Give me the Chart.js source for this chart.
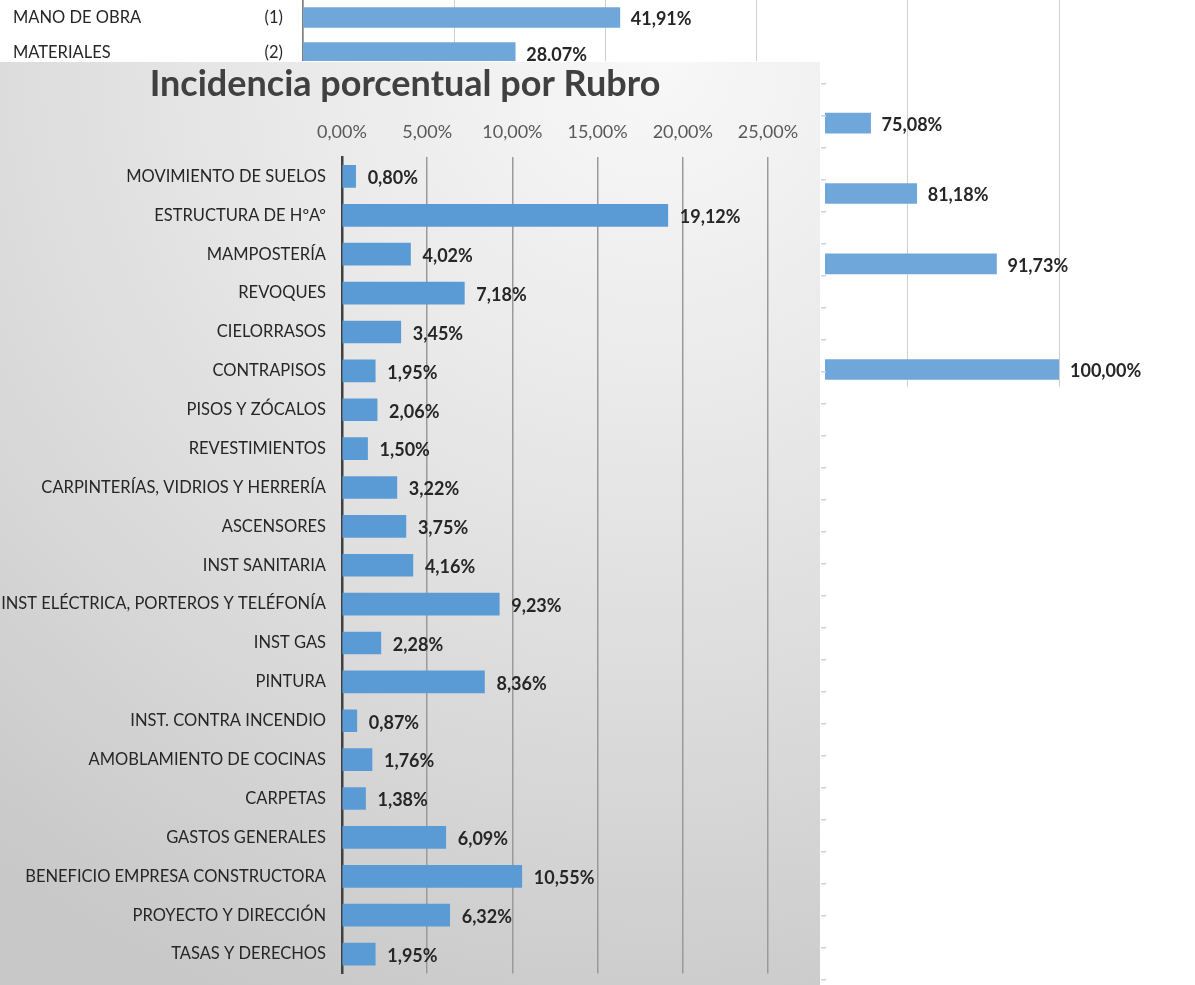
<!DOCTYPE html>
<html>
<head>
<meta charset="utf-8">
<script src="https://cdn.jsdelivr.net/npm/chart.js@4/dist/chart.umd.min.js"></script>
<style>
  html, body { margin: 0; padding: 0; background: #fff; }
  body { width: 1195px; height: 985px; position: relative; overflow: hidden; }
  #bg { position: absolute; left: 0; top: -10px; }
  #marks { position: absolute; left: 816px; top: 82px; z-index: 3; }
  #panel {
    position: absolute; left: 0; top: 61px; width: 820px; height: 924px;
    border-top: 1px solid #fff; border-right: 5px solid #fff; z-index: 2;
    background: radial-gradient(ellipse 130% 110% at 80% 0%, #f8f8f8 0%, #e9e9e9 35%, #d8d8d8 70%, #c8c8c8 100%);
  }
  #main { position: absolute; left: 0; top: 1px; }
</style>
</head>
<body>
<canvas id="bg" width="1195" height="407"></canvas>
<div id="panel"><canvas id="main" width="820" height="923"></canvas></div>
<canvas id="marks" width="10" height="900"></canvas>
<script>
"use strict";

// chart behind (partly hidden)
var backNames = ['MANO DE OBRA', 'MATERIALES', '', '', '', '', '', '', '', '', ''];
var backCodes = ['(1)', '(2)', '', '', '', '', '', '', '', '', ''];
var backValues = [41.91, 28.07, null, 75.08, null, 81.18, null, 91.73, null, null, 100.00];

// main chart
var rubros = [
    'MOVIMIENTO DE SUELOS', 'ESTRUCTURA DE HºAº', 'MAMPOSTERÍA', 'REVOQUES', 'CIELORRASOS',
    'CONTRAPISOS', 'PISOS Y ZÓCALOS', 'REVESTIMIENTOS', 'CARPINTERÍAS, VIDRIOS Y HERRERÍA',
    'ASCENSORES', 'INST SANITARIA', 'INST ELÉCTRICA, PORTEROS Y TELÉFONÍA', 'INST GAS',
    'PINTURA', 'INST. CONTRA INCENDIO', 'AMOBLAMIENTO DE COCINAS', 'CARPETAS',
    'GASTOS GENERALES', 'BENEFICIO EMPRESA CONSTRUCTORA', 'PROYECTO Y DIRECCIÓN', 'TASAS Y DERECHOS'
];
var incidencia = [0.80, 19.12, 4.02, 7.18, 3.45, 1.95, 2.06, 1.50, 3.22, 3.75, 4.16,
    9.23, 2.28, 8.36, 0.87, 1.76, 1.38, 6.09, 10.55, 6.32, 1.95];
var mainTicks = [0, 5, 10, 15, 20, 25];

Chart.defaults.font.family = 'Lato';
Chart.defaults.animation = false;

function pct(v) {
    return v.toFixed(2).replace('.', ',') + '%';
}

// draws the percentage next to the end of each bar
var valueLabels = {
    id: 'valueLabels',
    afterDatasetsDraw(chart, args, opts) {
        var ctx = chart.ctx;
        var data = chart.data.datasets[0].data;
        ctx.save();
        ctx.font = 'bold 18px Lato';
        ctx.fillStyle = '#262626';
        ctx.textBaseline = 'middle';
        chart.getDatasetMeta(0).data.forEach(function(bar, i) {
            if (data[i] == null) return;
            ctx.fillText(pct(data[i]), bar.x + opts.offset, bar.y + 2);
        });
        ctx.restore();
    }
};

new Chart(document.getElementById('bg'), {
    type: 'bar',
    data: {
        labels: backCodes,
        datasets: [{ data: backValues, backgroundColor: '#70a7db', barThickness: 20 }]
    },
    options: {
        indexAxis: 'y',
        responsive: false,
        layout: { padding: { left: 13, right: 136, top: 0, bottom: 0 } },
        plugins: { legend: { display: false }, tooltip: { enabled: false }, valueLabels: { offset: 11 } },
        scales: {
            x: {
                min: 0, max: 100,
                ticks: { display: false, stepSize: 20 },
                grid: { color: '#cfcfcf', drawTicks: false },
                border: { display: false },
                afterFit: function(s) { s.height = 0; }
            },
            y: {
                ticks: { color: '#262626', font: { size: 16.5 }, padding: 0, autoSkip: false },
                grid: { display: false, tickLength: 20 },
                border: { color: '#7f7f7f', width: 1.5 },
                afterFit: function(s) { s.width = 90; }
            },
            yName: {
                type: 'category', position: 'left', weight: 1, offset: true,
                labels: backNames,
                ticks: { color: '#262626', font: { size: 16.5 }, crossAlign: 'far', padding: 0, autoSkip: false },
                grid: { display: false },
                border: { display: false },
                afterFit: function(s) { s.width = 200; }
            }
        }
    },
    plugins: [valueLabels]
});

new Chart(document.getElementById('main'), {
    type: 'bar',
    data: {
        labels: rubros,
        datasets: [{ data: incidencia, backgroundColor: '#5b9bd5', barThickness: 22 }]
    },
    options: {
        indexAxis: 'y',
        responsive: false,
        layout: { padding: { left: 0, right: 10, top: 0, bottom: 12.5 } },
        plugins: {
            legend: { display: false },
            tooltip: { enabled: false },
            valueLabels: { offset: 12 },
            title: {
                display: true,
                text: 'Incidencia porcentual por Rubro',
                color: '#404040',
                font: { size: 36, weight: 'bold' },
                padding: { top: 0, bottom: 16.8 }
            }
        },
        scales: {
            x: {
                position: 'top',
                min: mainTicks[0], max: mainTicks[mainTicks.length - 1],
                afterBuildTicks: function(s) { s.ticks = mainTicks.map(function(v) { return { value: v }; }); },
                ticks: { color: '#595959', font: { size: 18 }, padding: 14, callback: function(v) { return pct(v); } },
                grid: { color: '#9a9a9a', lineWidth: 1.5, drawTicks: false },
                border: { display: false },
                afterFit: function(s) { s.height = 34; }
            },
            y: {
                ticks: { color: '#262626', font: { size: 16.5 }, padding: 0, autoSkip: false },
                grid: { display: false, tickLength: 16 },
                border: { color: '#404040', width: 2.5 },
                afterFit: function(s) { s.width = 342; }
            },
            // empty strip on the right so the title centres over the whole panel
            yRight: {
                type: 'category', position: 'right', labels: rubros,
                ticks: { display: false },
                grid: { display: false },
                border: { display: false },
                afterFit: function(s) { s.width = 42; }
            }
        }
    },
    plugins: [valueLabels]
});

// small tick marks along the right edge of the front chart
new Chart(document.getElementById('marks'), {
    type: 'scatter',
    data: { datasets: [{ data: [] }] },
    options: {
        responsive: false,
        layout: { padding: { top: 2, bottom: 2, left: 0, right: 0 } },
        plugins: { legend: { display: false }, tooltip: { enabled: false } },
        scales: {
            x: { display: false },
            y: {
                position: 'right', min: 0, max: 28,
                ticks: { display: false, stepSize: 1 },
                grid: { drawOnChartArea: false, tickLength: 5, color: '#c9d5e6', lineWidth: 1.5 },
                border: { display: false },
                afterFit: function(s) { s.width = 5; }
            }
        }
    }
});
</script>
</body>
</html>
